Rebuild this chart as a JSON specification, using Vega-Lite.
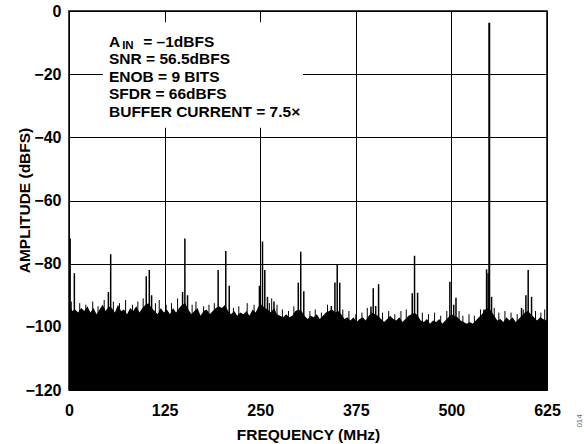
{
  "$schema": "https://vega.github.io/schema/vega-lite/v6.json",
  "autosize": "none",
  "width": 478,
  "height": 379,
  "padding": {"left": 69, "top": 11, "right": 37, "bottom": 54},
  "background": "white",
  "datasets": {
    "noise": [
      {"f":0,"a":-93},{"f":4,"a":-95},{"f":8,"a":-94.5},{"f":12,"a":-95.5},{"f":16,"a":-94},{"f":20,"a":-95},{"f":24,"a":-93.5},{"f":28,"a":-95.5},{"f":32,"a":-94},{"f":36,"a":-96},{"f":40,"a":-94.5},{"f":44,"a":-93},{"f":48,"a":-95},{"f":52,"a":-93.5},{"f":56,"a":-94},{"f":60,"a":-95.5},{"f":64,"a":-93},{"f":68,"a":-95},{"f":72,"a":-94.5},{"f":76,"a":-96},{"f":80,"a":-94},{"f":84,"a":-95},{"f":88,"a":-93.5},{"f":92,"a":-95.5},{"f":96,"a":-94},{"f":100,"a":-93},{"f":104,"a":-92.5},{"f":108,"a":-94},{"f":112,"a":-95},{"f":116,"a":-96},{"f":120,"a":-94},{"f":124,"a":-95.5},{"f":128,"a":-94.5},{"f":132,"a":-96},{"f":136,"a":-94},{"f":140,"a":-95.5},{"f":144,"a":-94},{"f":148,"a":-93},{"f":152,"a":-92.5},{"f":156,"a":-94.5},{"f":160,"a":-96},{"f":164,"a":-95},{"f":168,"a":-94},{"f":172,"a":-96.5},{"f":176,"a":-95},{"f":180,"a":-94.5},{"f":184,"a":-96},{"f":188,"a":-95},{"f":192,"a":-94},{"f":196,"a":-93.5},{"f":200,"a":-94},{"f":204,"a":-93},{"f":208,"a":-95},{"f":212,"a":-96},{"f":216,"a":-95},{"f":220,"a":-96.5},{"f":224,"a":-95.5},{"f":228,"a":-96},{"f":232,"a":-95},{"f":236,"a":-96.5},{"f":240,"a":-94.5},{"f":244,"a":-95.5},{"f":248,"a":-93.5},{"f":252,"a":-93},{"f":256,"a":-94},{"f":260,"a":-94.5},{"f":264,"a":-95.5},{"f":268,"a":-94},{"f":272,"a":-96},{"f":276,"a":-96.5},{"f":280,"a":-97},{"f":284,"a":-96},{"f":288,"a":-97},{"f":292,"a":-96.5},{"f":296,"a":-95},{"f":300,"a":-94.5},{"f":304,"a":-95},{"f":308,"a":-96.5},{"f":312,"a":-97.5},{"f":316,"a":-96.5},{"f":320,"a":-97},{"f":324,"a":-96},{"f":328,"a":-97.5},{"f":332,"a":-96.5},{"f":336,"a":-95.5},{"f":340,"a":-95},{"f":344,"a":-94.5},{"f":348,"a":-95.5},{"f":352,"a":-95},{"f":356,"a":-96},{"f":360,"a":-97.5},{"f":364,"a":-97},{"f":368,"a":-98},{"f":372,"a":-97},{"f":376,"a":-98.5},{"f":380,"a":-97.5},{"f":384,"a":-97},{"f":388,"a":-98},{"f":392,"a":-96.5},{"f":396,"a":-95.5},{"f":400,"a":-96},{"f":404,"a":-96.5},{"f":408,"a":-97.5},{"f":412,"a":-98.5},{"f":416,"a":-97.5},{"f":420,"a":-96.5},{"f":424,"a":-97.5},{"f":428,"a":-98},{"f":432,"a":-97},{"f":436,"a":-98.5},{"f":440,"a":-97.5},{"f":444,"a":-96.5},{"f":448,"a":-96},{"f":452,"a":-95.5},{"f":456,"a":-96.5},{"f":460,"a":-98},{"f":464,"a":-98.5},{"f":468,"a":-97.5},{"f":472,"a":-99},{"f":476,"a":-98},{"f":480,"a":-98.5},{"f":484,"a":-97.5},{"f":488,"a":-99},{"f":492,"a":-98},{"f":496,"a":-97},{"f":500,"a":-96},{"f":504,"a":-96.5},{"f":508,"a":-97},{"f":512,"a":-98},{"f":516,"a":-98.5},{"f":520,"a":-99},{"f":524,"a":-98.5},{"f":528,"a":-99},{"f":532,"a":-98},{"f":536,"a":-97},{"f":540,"a":-96},{"f":544,"a":-94.5},{"f":548,"a":-94},{"f":552,"a":-95},{"f":556,"a":-96.5},{"f":560,"a":-98},{"f":564,"a":-97.5},{"f":568,"a":-98.5},{"f":572,"a":-97},{"f":576,"a":-98},{"f":580,"a":-97},{"f":584,"a":-98.5},{"f":588,"a":-97.5},{"f":592,"a":-96.5},{"f":596,"a":-95.5},{"f":600,"a":-95},{"f":604,"a":-96},{"f":608,"a":-97},{"f":612,"a":-98},{"f":616,"a":-97},{"f":620,"a":-97.5},{"f":624,"a":-98},{"f":625,"a":-97}
    ],
    "grass": [
      {"f":3,"a":-92},{"f":14,"a":-92.5},{"f":22,"a":-93},{"f":31,"a":-92},{"f":38,"a":-93.5},{"f":46,"a":-91.5},{"f":58,"a":-92},{"f":66,"a":-92.5},{"f":74,"a":-91.5},{"f":83,"a":-93},{"f":90,"a":-92},{"f":97,"a":-91},{"f":113,"a":-92.5},{"f":118,"a":-91.5},{"f":127,"a":-93},{"f":134,"a":-92.5},{"f":142,"a":-91},{"f":161,"a":-93},{"f":166,"a":-92},{"f":176,"a":-93.5},{"f":183,"a":-93},{"f":190,"a":-92.5},{"f":215,"a":-94},{"f":222,"a":-93.5},{"f":233,"a":-92.5},{"f":242,"a":-93},{"f":262,"a":-92.5},{"f":265,"a":-91},{"f":272,"a":-93},{"f":279,"a":-94.5},{"f":287,"a":-95},{"f":294,"a":-93.5},{"f":315,"a":-95},{"f":322,"a":-94.5},{"f":330,"a":-95.5},{"f":338,"a":-93},{"f":358,"a":-94.5},{"f":366,"a":-95},{"f":375,"a":-96},{"f":383,"a":-95.5},{"f":390,"a":-94},{"f":410,"a":-95.5},{"f":418,"a":-95},{"f":426,"a":-96},{"f":434,"a":-95},{"f":441,"a":-94.5},{"f":462,"a":-95.5},{"f":470,"a":-96},{"f":478,"a":-95.5},{"f":486,"a":-96.5},{"f":494,"a":-95},{"f":510,"a":-95},{"f":515,"a":-96.5},{"f":523,"a":-96},{"f":530,"a":-96.5},{"f":538,"a":-94.5},{"f":556,"a":-94},{"f":562,"a":-95.5},{"f":570,"a":-95},{"f":578,"a":-95.5},{"f":586,"a":-96},{"f":594,"a":-94.5},{"f":610,"a":-95},{"f":617,"a":-95.5},{"f":622,"a":-94.5}
    ],
    "spurs": [
      {"f":1.5,"a":-72},{"f":7,"a":-83},{"f":51.5,"a":-89},{"f":54.5,"a":-77},{"f":101,"a":-84},{"f":105,"a":-82},{"f":108,"a":-90},{"f":148.5,"a":-89},{"f":151.5,"a":-72},{"f":155,"a":-90},{"f":195,"a":-82},{"f":205,"a":-76},{"f":209.5,"a":-87},{"f":249,"a":-87},{"f":253,"a":-73},{"f":256,"a":-82},{"f":259.5,"a":-90.5},{"f":268,"a":-92},{"f":299.8,"a":-86},{"f":303,"a":-76.2},{"f":307,"a":-88.7},{"f":343,"a":-93.4},{"f":347.7,"a":-86},{"f":350.7,"a":-80.4},{"f":354,"a":-86},{"f":394.8,"a":-93.6},{"f":397.8,"a":-87.8},{"f":401,"a":-93.4},{"f":404.8,"a":-86.5},{"f":448.8,"a":-89.4},{"f":451.8,"a":-77.5},{"f":455.8,"a":-89.2},{"f":498,"a":-85.7},{"f":503,"a":-93},{"f":506,"a":-90.8},{"f":542.5,"a":-94.5},{"f":546,"a":-81.8},{"f":548,"a":-83},{"f":552.5,"a":-90.5},{"f":591.7,"a":-94},{"f":597.4,"a":-90},{"f":600.4,"a":-82},{"f":604.8,"a":-90.5}
    ],
    "carrier": [{"f":549.5,"a":-3.7}],
    "box": [{"x":44.4,"x2":306,"y":-3.6,"y2":-37}],
    "notes": [
      {"x":52.3,"y":-11.3,"t":"A"},
      {"x":97.1,"y":-11.3,"t":"= –1dBFS"},
      {"x":52.3,"y":-16.85,"t":"SNR = 56.5dBFS"},
      {"x":52.3,"y":-22.4,"t":"ENOB = 9 BITS"},
      {"x":52.3,"y":-27.95,"t":"SFDR = 66dBFS"},
      {"x":52.3,"y":-33.5,"t":"BUFFER CURRENT = 7.5×"}
    ],
    "sub": [{"x":69.5,"y":-11.95,"t":"IN"}],
    "fig": [{"x":668,"y":-129.8,"t":"014"}]
  },
  "layer": [
    {
      "data": {"name": "noise"},
      "mark": {"type": "area", "color": "black", "strokeWidth": 0},
      "encoding": {
        "x": {"field": "f", "type": "quantitative", "scale": {"domain": [0, 625], "nice": false},
              "axis": {"values": [0,125,250,375,500,625], "labelFlush": false, "labelPadding": 12, "title": "FREQUENCY (MHz)", "titlePadding": 9}},
        "y": {"field": "a", "type": "quantitative", "scale": {"domain": [-120, 0], "nice": false, "zero": false},
              "axis": {"values": [-120,-100,-80,-60,-40,-20,0], "labelPadding": 8, "title": "AMPLITUDE (dBFS)", "titleX": -37, "titleY": 189}},
        "y2": {"datum": -120}
      }
    },
    {
      "data": {"name": "grass"},
      "mark": {"type": "rule", "color": "black", "strokeWidth": 1},
      "encoding": {
        "x": {"field": "f", "type": "quantitative"},
        "y": {"field": "a", "type": "quantitative"},
        "y2": {"datum": -120}
      }
    },
    {
      "data": {"name": "spurs"},
      "mark": {"type": "rule", "color": "black", "strokeWidth": 1.5},
      "encoding": {
        "x": {"field": "f", "type": "quantitative"},
        "y": {"field": "a", "type": "quantitative"},
        "y2": {"datum": -120}
      }
    },
    {
      "data": {"name": "carrier"},
      "mark": {"type": "rule", "color": "black", "strokeWidth": 2},
      "encoding": {
        "x": {"field": "f", "type": "quantitative"},
        "y": {"field": "a", "type": "quantitative"},
        "y2": {"datum": -120}
      }
    },
    {
      "data": {"name": "box"},
      "mark": {"type": "rect", "color": "white"},
      "encoding": {
        "x": {"field": "x", "type": "quantitative"},
        "x2": {"field": "x2"},
        "y": {"field": "y", "type": "quantitative"},
        "y2": {"field": "y2"}
      }
    },
    {
      "data": {"name": "notes"},
      "mark": {"type": "text", "align": "left", "baseline": "alphabetic", "font": "Liberation Sans", "fontWeight": "bold", "fontSize": 15.5, "color": "black"},
      "encoding": {
        "x": {"field": "x", "type": "quantitative"},
        "y": {"field": "y", "type": "quantitative"},
        "text": {"field": "t"}
      }
    },
    {
      "data": {"name": "sub"},
      "mark": {"type": "text", "align": "left", "baseline": "alphabetic", "font": "Liberation Sans", "fontWeight": "bold", "fontSize": 11.5, "color": "black"},
      "encoding": {
        "x": {"field": "x", "type": "quantitative"},
        "y": {"field": "y", "type": "quantitative"},
        "text": {"field": "t"}
      }
    },
    {
      "data": {"name": "fig"},
      "mark": {"type": "text", "align": "center", "baseline": "middle", "angle": 270, "font": "Liberation Sans", "fontSize": 8, "color": "#666666"},
      "encoding": {
        "x": {"field": "x", "type": "quantitative"},
        "y": {"field": "y", "type": "quantitative"},
        "text": {"field": "t"}
      }
    }
  ],
  "config": {
    "view": {"stroke": "black", "strokeWidth": 1.5},
    "axis": {
      "domain": false, "ticks": false, "grid": true, "gridColor": "black", "gridOpacity": 1, "gridWidth": 1,
      "labelFont": "Liberation Sans", "labelFontWeight": "bold", "labelFontSize": 16, "labelColor": "black",
      "titleFont": "Liberation Sans", "titleFontWeight": "bold", "titleFontSize": 15.5, "titleColor": "black"
    }
  }
}
